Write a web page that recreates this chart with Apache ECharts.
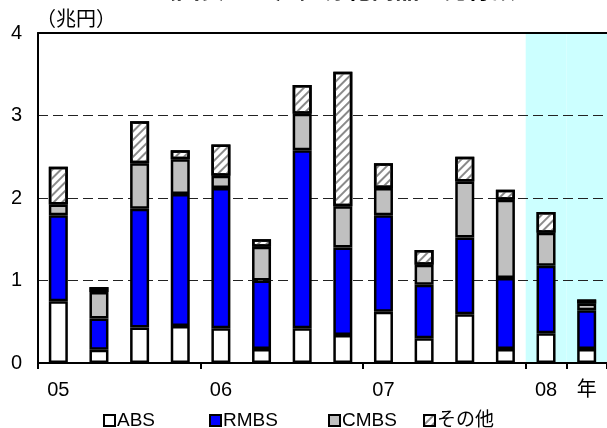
<!DOCTYPE html>
<html>
<head>
<meta charset="utf-8">
<script src="https://cdn.jsdelivr.net/npm/echarts@6/dist/echarts.min.js"></script>
<style>
  html, body { margin: 0; padding: 0; background: #fff; }
  #chart { width: 607px; height: 428px; }
</style>
</head>
<body>
<div id="chart"></div>
<script>
// Quarterly issuance of securitised products (trillion yen), 2005 Q1 - 2008 Q2
const quarters = ['05Q1','05Q2','05Q3','05Q4','06Q1','06Q2','06Q3','06Q4','07Q1','07Q2','07Q3','07Q4','08Q1','08Q2'];
const xLabels  = ['05','','','','06','','','','07','','','','08','年'];
const absVals   = [0.75,0.16,0.43,0.45,0.42,0.17,0.42,0.34,0.62,0.30,0.59,0.17,0.36,0.17];
const rmbsVals  = [1.04,0.38,1.44,1.60,1.70,0.83,2.16,1.06,1.17,0.65,0.93,0.86,0.82,0.47];
const cmbsVals  = [0.13,0.32,0.55,0.42,0.15,0.41,0.44,0.50,0.33,0.24,0.68,0.95,0.40,0.08];
const otherVals = [0.46,0.06,0.51,0.11,0.38,0.09,0.35,1.63,0.30,0.18,0.30,0.12,0.25,0.05];
const seriesNames = ['ABS', 'RMBS', 'CMBS', 'その他'];
const yTicks = { min: 0, max: 4, step: 1 };
const shadeFrom = '08Q1';   // latest year is highlighted

const FONT = "'Liberation Sans', 'Noto Sans CJK JP', sans-serif";
const CJK = "'Noto Sans CJK JP', sans-serif";

const shadeStart = quarters.indexOf(shadeFrom);
const shadeVals = quarters.map((q, i) => (i >= shadeStart ? yTicks.max : null));

const hatch = {
  symbol: 'rect',
  symbolSize: 1,
  dashArrayX: [1, 0],
  dashArrayY: [2, 4],
  rotation: -Math.PI / 4,
  color: '#8a8a8a'
};

const BORDER = 2.5;

const barBase = {
  type: 'bar',
  stack: 'total',
  barWidth: 19,
  z: 2,
  xAxisIndex: 0,
  yAxisIndex: 0
};

function legendAt(name, left) {
  return {
    data: [{ name: name, icon: 'rect' }],
    left: left,
    top: 411,
    itemWidth: 11,
    itemHeight: 11,
    padding: 0,
    selectedMode: false,
    itemStyle: { borderColor: '#000', borderWidth: 2 },
    textStyle: { fontFamily: FONT, fontSize: 19, color: '#000', padding: [0, 0, 0, -3] }
  };
}

const chart = echarts.init(document.getElementById('chart'), null, { renderer: 'canvas' });

chart.setOption({
  animation: false,
  backgroundColor: '#fff',
  grid: { left: 38, right: -2, top: 33, bottom: 65, containLabel: false },
  legend: [
    legendAt(seriesNames[0], 103),
    legendAt(seriesNames[1], 209),
    legendAt(seriesNames[2], 328),
    legendAt(seriesNames[3], 423)
  ],
  graphic: [
    {
      type: 'text',
      left: 152,
      top: -23,
      style: { text: '（図表2-16）証券化商品の発行額', fontFamily: CJK, fontSize: 24, fontWeight: 'bold', fill: '#000' }
    },
    {
      type: 'text',
      left: 36,
      top: 8,
      style: { text: '（兆円）', fontFamily: CJK, fontSize: 20, fill: '#000' }
    }
  ],
  xAxis: [
    {
      type: 'category',
      data: quarters,
      position: 'bottom',
      z: 1,
      axisLine: { show: true, lineStyle: { color: '#000', width: 2 } },
      axisTick: { show: true, interval: 3, length: 6, lineStyle: { color: '#000', width: 2 } },
      axisLabel: {
        interval: 0,
        margin: 17,
        formatter: (v, i) => xLabels[i],
        fontFamily: FONT,
        fontSize: 20,
        color: '#000'
      },
      splitLine: { show: false }
    },
    {
      type: 'category',
      data: quarters,
      position: 'top',
      z: 1,
      axisLine: { show: true, lineStyle: { color: '#000', width: 2 } },
      axisTick: { show: false },
      axisLabel: { show: false },
      splitLine: { show: false }
    }
  ],
  yAxis: {
    type: 'value',
    min: yTicks.min,
    max: yTicks.max,
    interval: yTicks.step,
    z: 1,
    axisLine: { show: true, lineStyle: { color: '#000', width: 2 } },
    axisTick: { show: false },
    axisLabel: { margin: 16, fontFamily: FONT, fontSize: 20, color: '#000' },
    splitLine: { show: true, lineStyle: { color: '#222', width: 1, type: [10, 5] } }
  },
  series: [
    {
      name: 'shade',
      type: 'bar',
      xAxisIndex: 1,
      yAxisIndex: 0,
      barWidth: '100%',
      z: 0,
      silent: true,
      itemStyle: { color: '#CCFFFF' },
      data: shadeVals
    },
    Object.assign({}, barBase, {
      name: seriesNames[0],
      itemStyle: { color: '#FFFFFF', borderColor: '#000', borderWidth: BORDER },
      data: absVals
    }),
    Object.assign({}, barBase, {
      name: seriesNames[1],
      itemStyle: { color: '#0000FF', borderColor: '#000', borderWidth: BORDER },
      data: rmbsVals
    }),
    Object.assign({}, barBase, {
      name: seriesNames[2],
      itemStyle: { color: '#C0C0C0', borderColor: '#000', borderWidth: BORDER },
      data: cmbsVals
    }),
    Object.assign({}, barBase, {
      name: seriesNames[3],
      itemStyle: { color: '#FFFFFF', borderColor: '#000', borderWidth: BORDER, decal: hatch },
      data: otherVals
    })
  ]
});
</script>
</body>
</html>
